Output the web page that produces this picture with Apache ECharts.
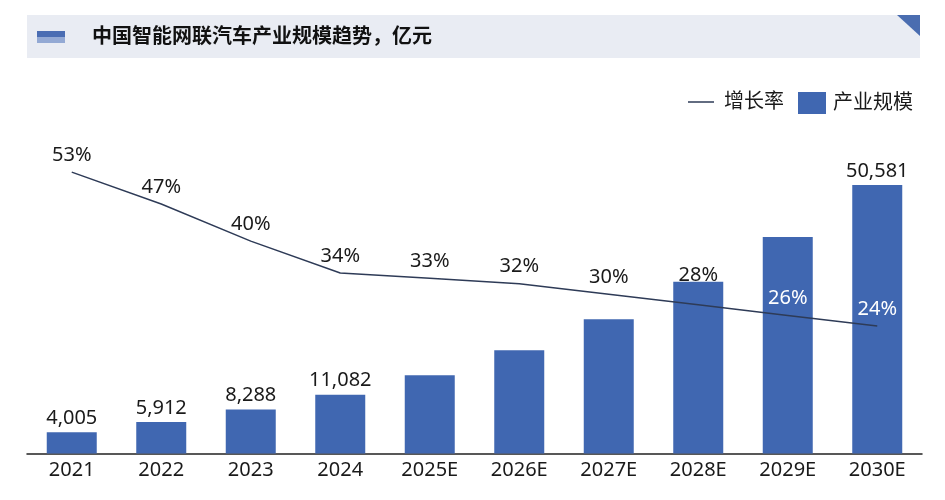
<!DOCTYPE html>
<html>
<head>
<meta charset="utf-8">
<script src="https://cdn.jsdelivr.net/npm/echarts@6/dist/echarts.min.js"></script>
<style>
html,body{margin:0;padding:0;background:#fff;}
#c{width:945px;height:500px;}
</style>
</head>
<body>
<div id="c"></div>
<script>
const categories = ['2021','2022','2023','2024','2025E','2026E','2027E','2028E','2029E','2030E'];
const marketSize = [4005, 5912, 8288, 11082, 14739, 19456, 25293, 32375, 40793, 50581];
const growthRate = [53, 47, 40, 34, 33, 32, 30, 28, 26, 24];
const labeledBars = [true, true, true, true, false, false, false, false, false, true];

const FONT = "'Noto Sans', 'Noto Sans CJK SC', sans-serif";
const BAR = '#4067b1';
const LINE = '#2e3b57';

const chart = echarts.init(document.getElementById('c'));

const barData = marketSize.map((v, i) => ({
  value: v,
  label: { show: labeledBars[i] }
}));
const lineData = growthRate.map((v, i) => {
  const d = { value: v };
  if (i >= 8) d.label = { color: '#ffffff' };
  if (i === 7) d.label = { distance: 20 };
  return d;
});

chart.setOption({
  backgroundColor: '#ffffff',
  animation: false,
  title: {
    text: '中国智能网联汽车产业规模趋势，亿元',
    left: 92, top: 25, padding: 0,
    textStyle: { fontFamily: "'Noto Sans CJK SC', sans-serif", fontWeight: 'bold', fontSize: 20, color: '#111' }
  },
  graphic: [
    { type: 'rect', z: -10, shape: { x: 27, y: 15, width: 893, height: 43 }, style: { fill: '#e9ecf3' } },
    { type: 'rect', shape: { x: 37, y: 31, width: 28, height: 6 }, style: { fill: '#4a6db3' } },
    { type: 'rect', shape: { x: 37, y: 37, width: 28, height: 6 }, style: { fill: '#93a9d4' } },
    { type: 'polygon', shape: { points: [[897, 15], [920, 15], [920, 36]] }, style: { fill: '#4a6db0' } }
  ],
  legend: [
    {
      data: [{ name: '增长率', icon: 'rect' }],
      left: 688, top: 92, padding: 0,
      itemWidth: 26, itemHeight: 1.5,
      itemStyle: { color: LINE },
      textStyle: { fontFamily: FONT, fontSize: 20, color: '#1a1a1a', padding: [0, 0, 0, 5] }
    },
    {
      data: [{ name: '产业规模', icon: 'rect' }],
      left: 798, top: 92, padding: 0,
      itemWidth: 28, itemHeight: 22,
      textStyle: { fontFamily: FONT, fontSize: 20, color: '#1a1a1a', padding: [0, 0, 0, 2] }
    }
  ],
  grid: { left: 27, right: 23, top: 135, bottom: 46.5, containLabel: false },
  xAxis: {
    type: 'category',
    data: categories,
    boundaryGap: true,
    axisLine: { lineStyle: { color: '#222', width: 1.5 } },
    axisTick: { show: false },
    axisLabel: { fontFamily: FONT, fontSize: 20, color: '#1a1a1a', margin: 7 }
  },
  yAxis: [
    { type: 'value', min: 0, max: 60000, show: false, splitLine: { show: false } },
    { type: 'value', min: 0, max: 60, show: false, splitLine: { show: false } }
  ],
  series: [
    {
      name: '产业规模',
      type: 'bar',
      data: barData,
      barWidth: 50,
      itemStyle: { color: BAR },
      label: {
        position: 'top', distance: 4,
        fontFamily: FONT, fontSize: 20, color: '#1a1a1a',
        formatter: p => p.value.toLocaleString('en-US')
      }
    },
    {
      name: '增长率',
      type: 'line',
      yAxisIndex: 1,
      data: lineData,
      symbol: 'circle',
      symbolSize: 0,
      showSymbol: true,
      z: 5,
      lineStyle: { color: LINE, width: 1.5 },
      itemStyle: { color: LINE },
      label: {
        show: true, position: 'top', distance: 7,
        fontFamily: FONT, fontSize: 20, color: '#1a1a1a',
        formatter: '{c}%'
      }
    }
  ]
});
</script>
</body>
</html>
